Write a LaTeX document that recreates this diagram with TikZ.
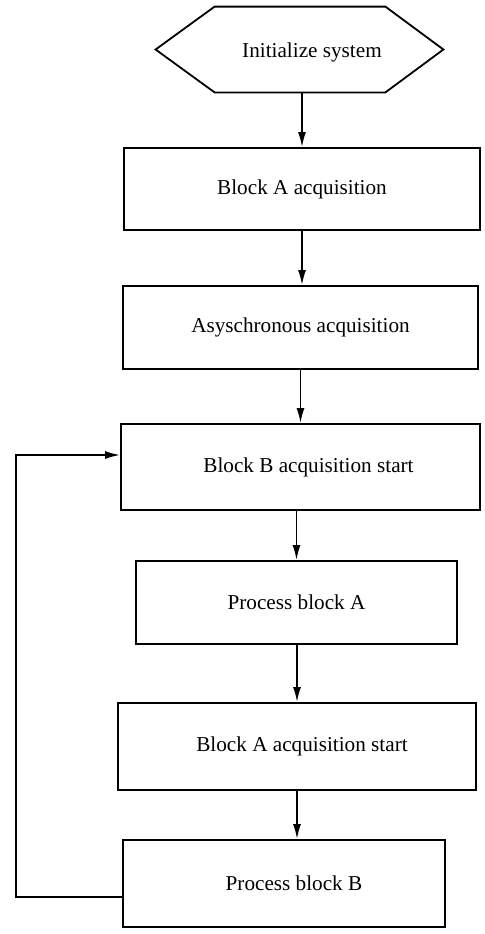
\documentclass[tikz,border=0pt]{standalone}
\usepackage{fontspec}
\setmainfont{Liberation Serif}
\usetikzlibrary{arrows.meta}
\begin{document}
\begin{tikzpicture}[x=0.5pt,y=-0.5pt,
  every node/.style={font=\fontsize{10.6}{12}\selectfont},
  box/.style={draw,line width=0.9pt,inner sep=0pt},
  arr/.style={line width=0.9pt,-{Latex[length=7.5pt,width=4pt]}}]
\useasboundingbox (0,0) rectangle (484,934);
% hexagon
\node[inner sep=0pt,minimum width=143.5pt,minimum height=42.5pt] (hex) at (299.5,49.5) {};
\draw[line width=0.9pt] (hex.west) -- ([xshift=29.5pt]hex.north west) -- ([xshift=-29pt]hex.north east)
  -- (hex.east) -- ([xshift=-29pt]hex.south east) -- ([xshift=29.5pt]hex.south west) -- cycle;
\node (hextext) at (312,52) {Initialize system};
\node[box,minimum width=178pt,minimum height=41pt] (b1) at (302,189) {Block A acquisition};
\node[box,minimum width=177.5pt,minimum height=41.5pt] (b2) at (300.5,327.5) {Asyschronous acquisition};
\node[box,minimum width=179.5pt,minimum height=43pt] (b3) at (300.5,467) {\hspace*{8pt}Block B acquisition start};
\node[box,minimum width=160.5pt,minimum height=41.5pt] (b4) at (296.5,602.5) {Process block A};
\node[box,minimum width=179pt,minimum height=43.5pt] (b5) at (297,746.5) {\hspace*{5pt}Block A acquisition start};
\node[box,minimum width=161pt,minimum height=43.5pt] (b6) at (284,883.5) {\hspace*{10pt}Process block B};
\coordinate (corner) at (16,455);
\draw[arr] (hex.south -| b1.north) -- (b1.north);
\draw[arr] (b1.south) -- (b1.south |- b2.north);
\draw[arr] (b2.south) -- (b2.south |- b3.north);
\draw[arr] (b3.south -| b4.north) -- (b4.north);
\draw[arr] (b4.south -| b5.north) -- (b5.north);
\draw[arr] (b5.south) -- (b5.south |- b6.north);
\draw[arr] ([yshift=-6.75pt]b6.west) -| (corner) -- (corner -| b3.west);
\end{tikzpicture}
\end{document}
